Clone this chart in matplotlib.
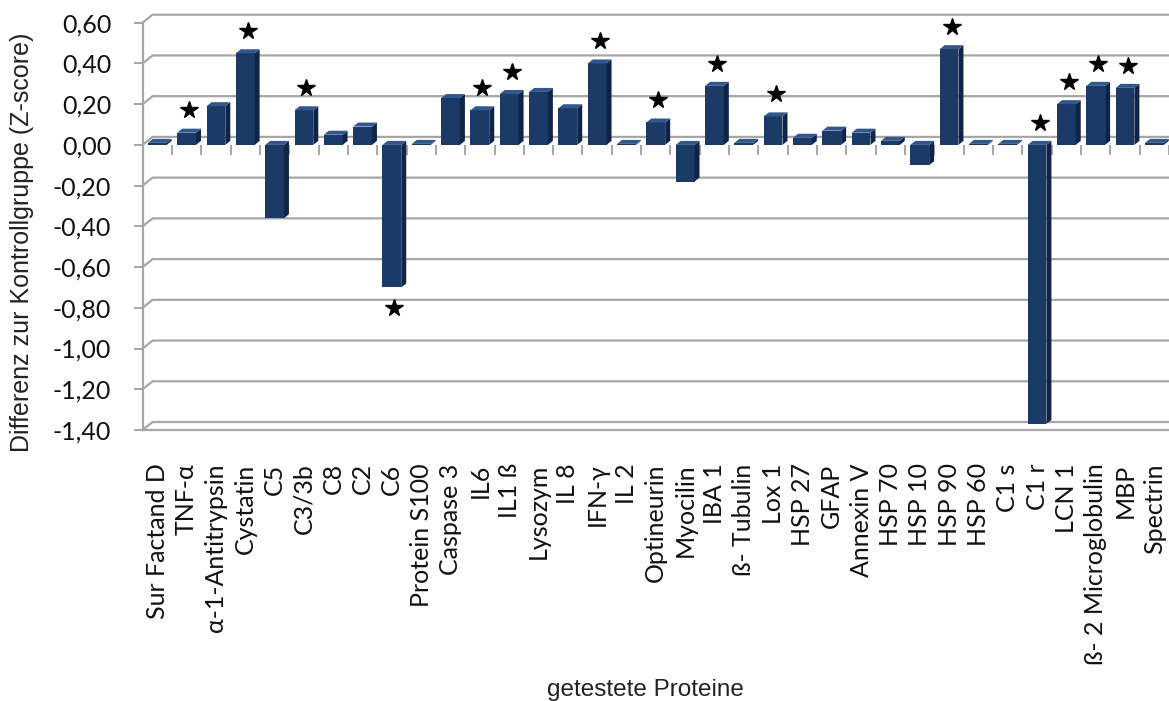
import numpy as np
import matplotlib.pyplot as plt
from matplotlib.ticker import FixedLocator, FuncFormatter
from matplotlib.transforms import offset_copy

# Proteine und Differenz zur Kontrollgruppe (Z-score)
proteins = ["Sur Factand D", "TNF-α", "α-1-Antitrypsin", "Cystatin", "C5",
            "C3/3b", "C8", "C2", "C6", "Protein S100", "Caspase 3", "IL6",
            "IL1 ß", "Lysozym", "IL 8", "IFN-γ", "IL 2", "Optineurin",
            "Myocilin", "IBA 1", "ß- Tubulin", "Lox 1", "HSP 27", "GFAP",
            "Annexin V", "HSP 70", "HSP 10", "HSP 90", "HSP 60", "C1 s",
            "C1 r", "LCN 1", "ß- 2 Microglobulin", "MBP", "Spectrin"]
zscores = [0.01, 0.06, 0.19, 0.45, -0.36,
           0.17, 0.05, 0.09, -0.70, 0.005, 0.23, 0.17,
           0.25, 0.26, 0.18, 0.40, 0.005, 0.11,
           -0.18, 0.29, 0.01, 0.14, 0.035, 0.07,
           0.06, 0.02, -0.10, 0.47, 0.005, 0.005,
           -1.37, 0.20, 0.29, 0.28, 0.01]
# significant proteins; the star sits above the bar unless listed in star_below
significant = ["TNF-α", "Cystatin", "C3/3b", "C6", "IL6", "IL1 ß", "IFN-γ",
               "Optineurin", "IBA 1", "Lox 1", "HSP 90", "C1 r", "LCN 1",
               "ß- 2 Microglobulin", "MBP"]
star_below = ["C6"]
yticks = [0.6, 0.4, 0.2, 0.0, -0.2, -0.4, -0.6, -0.8, -1.0, -1.2, -1.4]

FRONT = "#1b3a66"
SIDE = "#0f2547"
TOP = "#31578c"
GRID = "#a6a6a6"
TICKFONT = ["Lato", "DejaVu Sans"]

W, H = 1169, 701
fig = plt.figure(figsize=(W / 100, H / 100), dpi=100)
left, top, bottom = 142.6, 22.7, 430.0
ax = fig.add_axes([left / W, 1 - bottom / H, 1 - left / W, (bottom - top) / H])

n = len(proteins)
x = np.arange(n)
ax.set_xlim(-0.5, n - 0.5)
ax.set_ylim(-1.4, 0.6)


def px_to_data(dx_px, dy_px):
    p0 = ax.transData.transform((0, 0))
    p1 = ax.transData.transform((1, 1))
    return dx_px / (p1[0] - p0[0]), dy_px / (p1[1] - p0[1])


# back wall gridlines, pushed back with a short diagonal on the side wall
gdx, gdy = px_to_data(10, 8)
for t in yticks:
    ax.plot([-0.5, -0.5 + gdx, n + 0.5], [t, t + gdy, t + gdy],
            color=GRID, lw=1.6, zorder=0.5, clip_on=False)

# columns with a shallow 3D look: front face, right side face, top face
width = 0.64
bdx, bdy = px_to_data(5, 4)
ax.bar(x, zscores, width=width, color=FRONT, zorder=3)
for xi, v in zip(x, zscores):
    x0, x1 = xi - width / 2, xi + width / 2
    hi, lo = max(v, 0), min(v, 0)
    ax.fill([x1, x1, x1 + bdx, x1 + bdx], [lo, hi, hi + bdy, lo + bdy],
            color=SIDE, zorder=3, lw=0)
    ax.fill([x0, x1, x1 + bdx, x0 + bdx], [hi, hi, hi + bdy, hi + bdy],
            color=TOP, zorder=3, lw=0)

# significance stars, shifted in points away from the column end
above = offset_copy(ax.transData, fig=fig, y=16, units="points")
below = offset_copy(ax.transData, fig=fig, y=-14.5, units="points")
for name in significant:
    i = proteins.index(name)
    v = zscores[i]
    if name in star_below:
        ax.plot(i + bdx / 2, v, marker="*", ms=13, color="black",
                transform=below, zorder=4, clip_on=False)
    else:
        ax.plot(i + bdx / 2, max(v, 0), marker="*", ms=13, color="black",
                transform=above, zorder=4, clip_on=False)

for s in ["top", "right"]:
    ax.spines[s].set_visible(False)
for s in ["left", "bottom"]:
    ax.spines[s].set_color(GRID)
    ax.spines[s].set_linewidth(1.6)

ax.yaxis.set_major_locator(FixedLocator(yticks))
ax.yaxis.set_major_formatter(FuncFormatter(lambda v, _: f"{v:.2f}".replace(".", ",")))
ax.tick_params(axis="y", length=6.5, width=1.4, color=GRID, pad=16,
               labelsize=18, labelcolor="#111111")
for lab in ax.get_yticklabels():
    lab.set_family(TICKFONT)

ax.set_xticks(x)
ax.set_xticklabels(proteins, rotation=90, fontsize=18, color="#111111",
                   family=TICKFONT)
ax.tick_params(axis="x", length=0, pad=24)

# category axis at zero with boundary ticks
zero_frac = (0 - (-1.4)) / (0.6 - (-1.4))
sec = ax.secondary_xaxis(zero_frac)
sec.set_xticks(np.arange(n) + 0.5)
sec.tick_params(axis="x", direction="out", length=7, width=1.4, color=GRID,
                labelbottom=False, labeltop=False, bottom=True, top=False)
sec.spines["bottom"].set_color(GRID)
sec.spines["bottom"].set_linewidth(1.6)
sec.spines["top"].set_visible(False)

fig.text(22 / W, 1 - 242 / H, "Differenz zur Kontrollgruppe (Z-score)",
         rotation=90, ha="center", va="center", fontsize=18,
         family="Liberation Sans", color="#222222")
fig.text(645 / W, 1 - 690 / H, "getestete Proteine", ha="center",
         va="center", fontsize=17.5, family="Liberation Sans", color="#222222")

fig.savefig("out.png", dpi=100)
